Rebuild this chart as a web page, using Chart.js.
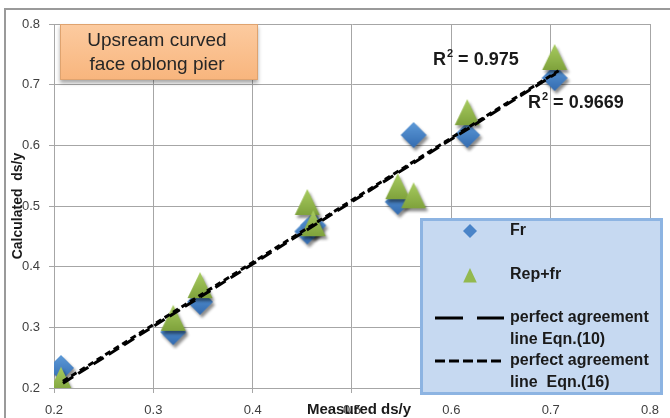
<!DOCTYPE html>
<html>
<head>
<meta charset="utf-8">
<script src="https://cdn.jsdelivr.net/npm/chart.js@4.4.1/dist/chart.umd.min.js"></script>
<style>
  html, body { margin: 0; padding: 0; background: #fff; }
  #wrap { width: 670px; height: 418px; }
</style>
</head>
<body>
<div id="wrap"><canvas id="chart" width="670" height="418"></canvas></div>
<script>
/* ================= DATA ================= */
const measured  = [0.207, 0.320, 0.347, 0.455, 0.461, 0.546, 0.562, 0.616, 0.704];
const calcFr    = [0.233, 0.292, 0.342, 0.458, 0.468, 0.507, 0.617, 0.617, 0.711];
const calcRepFr = [0.212, 0.314, 0.368, 0.505, 0.470, 0.531, 0.516, 0.653, 0.744];

const eqn10X = [0.209, 0.705];
const eqn10Y = [0.208, 0.718];
const eqn16X = [0.209, 0.708];
const eqn16Y = [0.211, 0.723];

const tickValues = [0.2, 0.3, 0.4, 0.5, 0.6, 0.7, 0.8];
const tickLabels = ['0.2', '0.3', '0.4', '0.5', '0.6', '0.7', '0.8'];

const toPoints = (xs, ys) => xs.map((x, i) => ({ x: x, y: ys[i] }));

/* ================= MARKERS ================= */
function makeMarker(kind) {
    const cv = document.createElement('canvas');
    cv.width = 36; cv.height = 36;
    const c = cv.getContext('2d');
    const cx = 18, cy = 18;
    c.shadowColor = 'rgba(0,0,0,0.45)';
    c.shadowBlur = 3;
    c.shadowOffsetX = 2;
    c.shadowOffsetY = 3;
    c.beginPath();
    let g;
    if (kind === 'diamond') {
        c.moveTo(cx, cy - 13); c.lineTo(cx + 13, cy); c.lineTo(cx, cy + 13); c.lineTo(cx - 13, cy);
        g = c.createLinearGradient(0, cy - 13, 0, cy + 13);
        g.addColorStop(0, '#5d9ad8');
        g.addColorStop(1, '#336bb0');
    } else {
        c.moveTo(cx, cy - 14); c.lineTo(cx + 12.5, cy + 12); c.lineTo(cx - 12.5, cy + 12);
        g = c.createLinearGradient(0, cy - 14, 0, cy + 12);
        g.addColorStop(0, '#a8cc60');
        g.addColorStop(1, '#7fa23c');
    }
    c.closePath();
    c.fillStyle = g;
    c.fill();
    return cv;
}
const diamondImg = makeMarker('diamond');
const triangleImg = makeMarker('triangle');

/* ================= DECORATION PLUGIN ================= */
const FONT = '"Liberation Sans", Arial, sans-serif';

function smallDiamond(c, x, y, r) {
    c.beginPath();
    c.moveTo(x, y - r); c.lineTo(x + r, y); c.lineTo(x, y + r); c.lineTo(x - r, y);
    c.closePath();
    c.fillStyle = '#4a84c8';
    c.fill();
}
function smallTriangle(c, x, y, r) {
    c.beginPath();
    c.moveTo(x, y - r); c.lineTo(x + r * 0.85, y + r * 0.8); c.lineTo(x - r * 0.85, y + r * 0.8);
    c.closePath();
    c.fillStyle = '#93b94f';
    c.fill();
}
function rSquared(c, x, y, value) {
    c.fillStyle = '#1a1a1a';
    c.textBaseline = 'middle';
    c.textAlign = 'left';
    c.font = 'bold 18px ' + FONT;
    c.fillText('R', x, y);
    let w = c.measureText('R').width;
    c.font = 'bold 11px ' + FONT;
    c.fillText('2', x + w + 1, y - 6);
    w += c.measureText('2').width + 1;
    c.font = 'bold 18px ' + FONT;
    c.fillText(' = ' + value, x + w, y);
}

const decor = {
    id: 'decor',
    beforeDraw(chart) {
        const c = chart.ctx;
        c.save();
        c.fillStyle = '#fff';
        c.fillRect(0, 0, chart.width, chart.height);
        c.strokeStyle = '#9a9a9a';
        c.lineWidth = 2;
        c.beginPath();
        c.moveTo(5, 418); c.lineTo(5, 9); c.lineTo(670, 9);
        c.stroke();
        c.restore();
    },
    afterDraw(chart) {
        const c = chart.ctx;
        c.save();

        // title box
        c.save();
        c.shadowColor = 'rgba(0,0,0,0.35)';
        c.shadowBlur = 4;
        c.shadowOffsetY = 3;
        const tg = c.createLinearGradient(0, 24, 0, 80);
        tg.addColorStop(0, '#fccba0');
        tg.addColorStop(1, '#f8b57d');
        c.fillStyle = tg;
        c.fillRect(60, 24, 198, 56);
        c.restore();
        c.strokeStyle = '#dfa36f';
        c.lineWidth = 1;
        c.strokeRect(60.5, 24.5, 197, 55);
        c.fillStyle = '#262626';
        c.font = '19px ' + FONT;
        c.textAlign = 'center';
        c.textBaseline = 'middle';
        c.fillText('Upsream curved', 157, 41);
        c.fillText('face oblong pier', 157, 65);

        // R squared labels
        rSquared(c, 433, 60, '0.975');
        rSquared(c, 528, 103, '0.9669');

        // axis titles
        c.fillStyle = '#1a1a1a';
        c.font = 'bold 15px ' + FONT;
        c.textAlign = 'center';
        c.textBaseline = 'middle';
        c.fillText('Measured ds/y', 359, 410);
        c.save();
        c.translate(18, 206);
        c.rotate(-Math.PI / 2);
        c.font = 'bold 14px ' + FONT;
        c.fillText('Calculated  ds/y', 0, 0);
        c.restore();

        // legend
        c.fillStyle = '#c6d9f1';
        c.fillRect(421, 219, 241, 175);
        c.strokeStyle = '#8db4e2';
        c.lineWidth = 3;
        c.strokeRect(421.5, 219.5, 240, 174);

        smallDiamond(c, 470, 231, 7);
        smallTriangle(c, 470, 276, 8);

        c.strokeStyle = '#000';
        c.lineWidth = 3;
        c.setLineDash([28, 14]);
        c.beginPath(); c.moveTo(435, 318); c.lineTo(504, 318); c.stroke();
        c.setLineDash([10, 4]);
        c.beginPath(); c.moveTo(435, 361); c.lineTo(504, 361); c.stroke();
        c.setLineDash([]);

        c.fillStyle = '#1a1a1a';
        c.font = 'bold 16px ' + FONT;
        c.textAlign = 'left';
        c.textBaseline = 'middle';
        c.fillText('Fr', 510, 231);
        c.fillText('Rep+fr', 510, 275);
        c.fillText('perfect agreement', 510, 318);
        c.fillText('line Eqn.(10)', 510, 340);
        c.fillText('perfect agreement', 510, 361);
        c.fillText('line  Eqn.(16)', 510, 383);

        c.restore();
    }
};

/* ================= CHART ================= */
const tickFont = { family: FONT, size: 13 };

new Chart(document.getElementById('chart').getContext('2d'), {
    type: 'scatter',
    data: {
        datasets: [
            {
                label: 'perfect agreement line Eqn.(10)',
                data: toPoints(eqn10X, eqn10Y),
                showLine: true,
                borderColor: '#000',
                borderWidth: 3,
                borderDash: [12, 6],
                pointRadius: 0,
                order: 0
            },
            {
                label: 'perfect agreement line Eqn.(16)',
                data: toPoints(eqn16X, eqn16Y),
                showLine: true,
                borderColor: '#000',
                borderWidth: 3,
                borderDash: [6, 4],
                pointRadius: 0,
                order: 1
            },
            {
                label: 'Rep+fr',
                data: toPoints(measured, calcRepFr),
                pointStyle: triangleImg,
                order: 2
            },
            {
                label: 'Fr',
                data: toPoints(measured, calcFr),
                pointStyle: diamondImg,
                order: 3
            }
        ]
    },
    options: {
        responsive: false,
        animation: false,
        layout: { padding: { top: 24, right: 20, left: 0, bottom: 0 } },
        plugins: {
            legend: { display: false },
            tooltip: { enabled: false }
        },
        scales: {
            x: {
                type: 'linear',
                min: 0.2,
                max: 0.8,
                afterBuildTicks: s => { s.ticks = tickValues.map(v => ({ value: v })); },
                afterFit: s => { s.height = 30; },
                ticks: {
                    callback: (v, i) => tickLabels[i],
                    font: tickFont,
                    color: '#404040',
                    padding: 10,
                    maxRotation: 0
                },
                grid: { color: '#a6a6a6', tickLength: 5 },
                border: { color: '#a6a6a6' }
            },
            y: {
                type: 'linear',
                min: 0.2,
                max: 0.8,
                afterBuildTicks: s => { s.ticks = tickValues.map(v => ({ value: v })); },
                afterFit: s => { s.width = 54; },
                ticks: {
                    callback: (v, i) => tickLabels[i],
                    font: tickFont,
                    color: '#404040',
                    padding: 9
                },
                grid: { color: '#a6a6a6', tickLength: 5 },
                border: { color: '#a6a6a6' }
            }
        }
    },
    plugins: [decor]
});
</script>
</body>
</html>
